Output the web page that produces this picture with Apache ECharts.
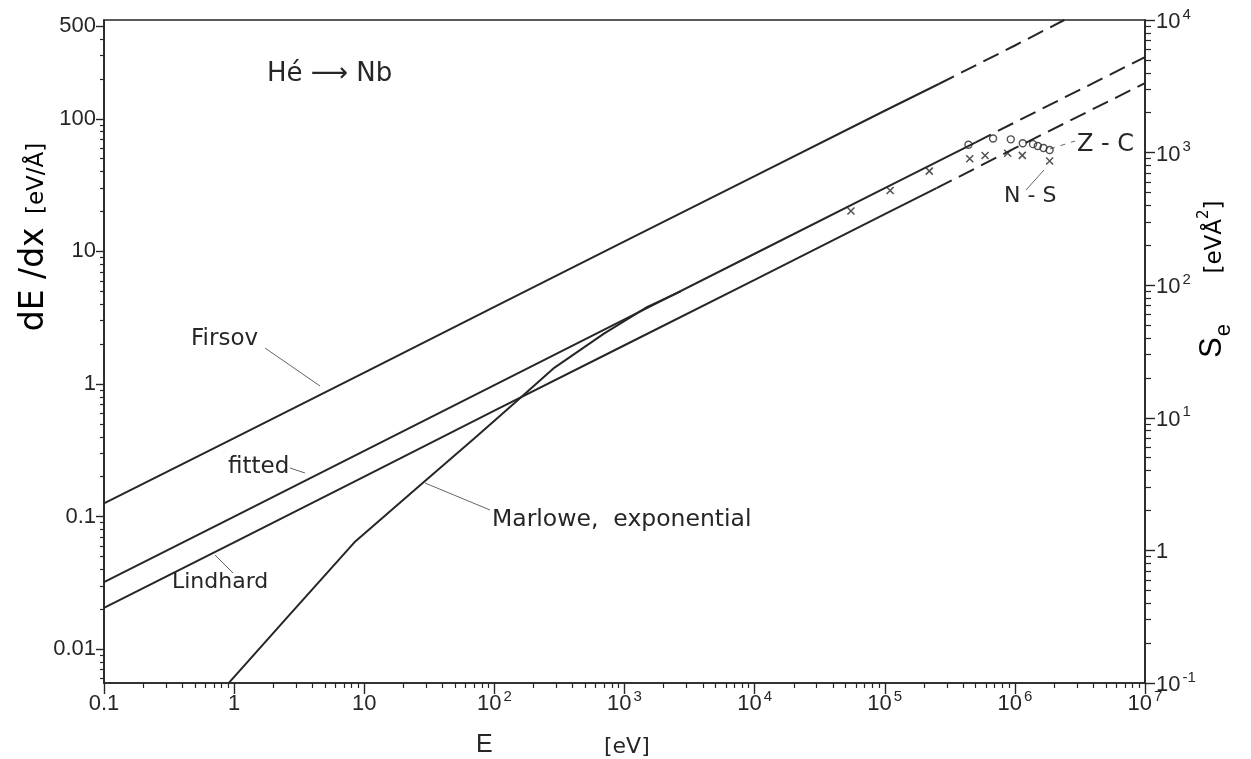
<!DOCTYPE html>
<html><head><meta charset="utf-8">
<script src="https://cdn.jsdelivr.net/npm/echarts@6/dist/echarts.min.js"></script>
<style>html,body{margin:0;padding:0;background:#fff}#c{width:1251px;height:759px}</style>
</head><body><div id="c"></div>
<script>
// ---------- axis ticks ----------
const energyTicks = [0.1, 1, 10, 100, 1e3, 1e4, 1e5, 1e6, 1e7];
const leftTicks = [0.01, 0.1, 1, 10, 100, 500];
const leftTickLabels = ['0.01', '0.1', '1', '10', '100', '500'];
const rightTicks = [0.1, 1, 10, 100, 1e3, 1e4];

// ---------- data (E in eV, dE/dx in eV/Å) ----------
const firsovE      = [0.1, 1, 10, 100, 1e3, 1e4, 1e5, 2.6e5];
const firsovS      = [0.126, 0.39, 1.22, 3.81, 11.9, 36.9, 115, 183];
const firsovDashE  = [2.6e5, 1e6, 2.4e6];
const firsovDashS  = [183, 357, 556];

const fittedE      = [0.1, 1, 10, 100, 1e3, 1e4, 1e5, 5e5];
const fittedS      = [0.032, 0.100, 0.313, 0.98, 3.07, 9.6, 30, 66.5];
const fittedDashE  = [5e5, 1e6, 1e7];
const fittedDashS  = [66.5, 94, 292];

const lindhardE     = [0.1, 1, 10, 100, 1e3, 1e4, 1e5, 2.5e5];
const lindhardS     = [0.0205, 0.064, 0.20, 0.63, 1.96, 6.1, 19.1, 30];
const lindhardDashE = [2.5e5, 1e6, 1e7];
const lindhardDashS = [30, 60, 186];

const marloweE = [0.9, 2.6, 8.4, 27, 70, 143, 290, 700, 1500, 2700];
const marloweS = [0.0055, 0.0177, 0.064, 0.173, 0.388, 0.718, 1.33, 2.41, 3.82, 5.0];

const nsE = [5.5e4, 1.1e5, 2.2e5, 4.5e5, 5.9e5, 8.8e5, 1.14e6, 1.85e6];
const nsS = [20.2, 28.8, 40.3, 50, 52.9, 55, 53, 48];

const zcE = [4.4e5, 6.8e5, 9.3e5, 1.15e6, 1.38e6, 1.5e6, 1.66e6, 1.85e6];
const zcS = [63.8, 71, 70, 65.4, 64.4, 62.3, 60.2, 58.2];

// ---------- helpers ----------
const zip = (a, b) => a.map((v, i) => [v, b[i]]);
function minors(lo, hi, skip) {
  const out = [];
  for (let e = -3; e <= 7; e++) for (let m = 2; m <= 9; m++) {
    const v = +(m * Math.pow(10, e)).toPrecision(6);
    if (v > lo * 1.0001 && v < hi * 0.9999 && !(skip || []).includes(v)) out.push(v);
  }
  return out;
}
const INK = '#262626';
const FONT = 'Liberation Sans';
const AFONT = 'DejaVu Sans';
const LMIN = 0.00556, LMAX = 556;

const supRich = {
  b: { fontSize: 22, fontFamily: FONT, color: INK, verticalAlign: 'bottom', lineHeight: 26 },
  s: { fontSize: 15, fontFamily: FONT, color: INK, verticalAlign: 'top', lineHeight: 26, padding: [0, 0, 10, 2] }
};
function xLabel(v) {
  const e = Math.round(Math.log10(v));
  if (e === -1) return '{b|0.1}';
  if (e === 0) return '{b|1}';
  if (e === 1) return '{b|10}';
  return '{b|10}{s|' + e + '}';
}
function rightLabel(v) {
  const e = Math.round(Math.log10(v));
  if (e === 0) return '{b|1}';
  return '{b|10}{s|' + e + '}';
}
function leftLabel(v) {
  let best = 0;
  leftTicks.forEach((t, i) => { if (Math.abs(Math.log10(v / t)) < Math.abs(Math.log10(v / leftTicks[best]))) best = i; });
  return leftTickLabels[best];
}

const chart = echarts.init(document.getElementById('c'), null, { renderer: 'canvas' });

const lineBase = { type: 'line', showSymbol: false, symbol: 'none', silent: true, xAxisIndex: 0, yAxisIndex: 0, clip: true };
const solid = { color: INK, width: 2 };
const dashed = { color: INK, width: 2, type: [17, 8] };
const annot = (x, y, text, size) => ({ type: 'text', x, y, style: { text, font: size + 'px "' + AFONT + '"', fill: INK, textAlign: 'left', textVerticalAlign: 'middle' } });
const leader = (x1, y1, x2, y2, dash) => ({ type: 'line', shape: { x1, y1, x2, y2 }, style: { stroke: '#666', lineWidth: 1, lineDash: dash || null } });

chart.setOption({
  animation: false,
  backgroundColor: '#fff',
  textStyle: { fontFamily: FONT, color: INK },
  grid: { left: 104, right: 106, top: 20, bottom: 76, show: true, borderColor: INK, borderWidth: 1.6, containLabel: false },
  xAxis: [
    { type: 'log', min: 0.1, max: 1e7, position: 'bottom',
      axisLine: { show: true, lineStyle: { color: INK, width: 1.6 } },
      axisTick: { show: true, inside: false, length: 11, customValues: energyTicks, lineStyle: { color: INK, width: 1.4 } },
      axisLabel: { show: true, margin: 6, customValues: energyTicks, color: INK, fontFamily: FONT, fontSize: 22,
        formatter: xLabel, rich: supRich },
      splitLine: { show: false } },
    { type: 'log', min: 0.1, max: 1e7, position: 'bottom',
      axisLine: { show: false },
      axisTick: { show: true, inside: false, length: 5, customValues: minors(0.1, 1e7), lineStyle: { color: INK, width: 1.2 } },
      axisLabel: { show: false }, splitLine: { show: false } }
  ],
  yAxis: [
    { type: 'log', min: LMIN, max: LMAX, position: 'left',
      axisLine: { show: true, lineStyle: { color: INK, width: 1.6 } },
      axisTick: { show: true, inside: false, length: 8, customValues: leftTicks, lineStyle: { color: INK, width: 1.4 } },
      axisLabel: { show: true, margin: 8, customValues: leftTicks, color: INK, fontFamily: FONT, fontSize: 22,
        formatter: leftLabel },
      splitLine: { show: false } },
    { type: 'log', min: LMIN, max: LMAX, position: 'left',
      axisLine: { show: false },
      axisTick: { show: true, inside: false, length: 4, customValues: minors(LMIN, LMAX, [500]), lineStyle: { color: INK, width: 1.2 } },
      axisLabel: { show: false }, splitLine: { show: false } },
    { type: 'log', min: 0.1, max: 1e4, position: 'right',
      axisLine: { show: true, lineStyle: { color: INK, width: 1.6 } },
      axisTick: { show: true, inside: false, length: 10, customValues: rightTicks, lineStyle: { color: INK, width: 1.4 } },
      axisLabel: { show: true, margin: 11, customValues: rightTicks, color: INK, fontFamily: FONT, fontSize: 22,
        formatter: rightLabel, rich: supRich },
      splitLine: { show: false } },
    { type: 'log', min: 0.1, max: 1e4, position: 'right',
      axisLine: { show: false },
      axisTick: { show: true, inside: false, length: 6, customValues: minors(0.1, 1e4), lineStyle: { color: INK, width: 1.2 } },
      axisLabel: { show: false }, splitLine: { show: false } }
  ],
  series: [
    Object.assign({}, lineBase, { name: 'Firsov', data: zip(firsovE, firsovS), lineStyle: solid }),
    Object.assign({}, lineBase, { name: 'Firsov ext', data: zip(firsovDashE, firsovDashS), lineStyle: dashed }),
    Object.assign({}, lineBase, { name: 'fitted', data: zip(fittedE, fittedS), lineStyle: solid }),
    Object.assign({}, lineBase, { name: 'fitted ext', data: zip(fittedDashE, fittedDashS), lineStyle: dashed }),
    Object.assign({}, lineBase, { name: 'Lindhard', data: zip(lindhardE, lindhardS), lineStyle: solid }),
    Object.assign({}, lineBase, { name: 'Lindhard ext', data: zip(lindhardDashE, lindhardDashS), lineStyle: dashed }),
    Object.assign({}, lineBase, { name: 'Marlowe', data: zip(marloweE, marloweS), lineStyle: solid }),
    { type: 'scatter', name: 'N-S', xAxisIndex: 0, yAxisIndex: 0, silent: true, data: zip(nsE, nsS),
      symbol: 'path://M0 0 L10 10 M10 0 L0 10', symbolSize: 7,
      itemStyle: { color: 'rgba(0,0,0,0)', borderColor: INK, borderWidth: 1.5 } },
    { type: 'scatter', name: 'Z-C', xAxisIndex: 0, yAxisIndex: 0, silent: true, data: zip(zcE, zcS),
      symbol: 'circle', symbolSize: 7,
      itemStyle: { color: 'rgba(0,0,0,0)', borderColor: INK, borderWidth: 1.4 } }
  ],
  graphic: [
    annot(267, 74, 'Hé ⟶ Nb', 26),
    annot(191, 339, 'Firsov', 23),
    annot(228, 467, 'fitted', 23),
    annot(172, 582, 'Lindhard', 22),
    annot(492, 520, 'Marlowe,  exponential', 23.5),
    annot(1077, 145, 'Z - C', 24),
    annot(1004, 196, 'N - S', 22),
    { type: 'text', x: 476, y: 745, style: { text: 'E', font: '25px "Liberation Sans"', fill: INK, textVerticalAlign: 'middle' } },
    { type: 'text', x: 604, y: 747, style: { text: '[eV]', font: '22px "DejaVu Sans"', fill: INK, textVerticalAlign: 'middle' } },
    { type: 'text', x: 31, y: 237, rotation: Math.PI / 2,
      style: { text: '{a|dE /dx} {b|[eV/Å]}', textAlign: 'center', textVerticalAlign: 'middle',
        rich: { a: { fontSize: 33, fontFamily: AFONT, color: INK, verticalAlign: 'bottom', lineHeight: 40 },
                b: { fontSize: 23, fontFamily: AFONT, color: INK, padding: [0, 0, 2, 10], verticalAlign: 'bottom', lineHeight: 40 } } } },
    { type: 'text', x: 1216, y: 341, rotation: Math.PI / 2,
      style: { text: '{a|S}{s|e}', textAlign: 'center', textVerticalAlign: 'middle',
        rich: { a: { fontSize: 31, fontFamily: FONT, color: INK, verticalAlign: 'top', lineHeight: 38 },
                s: { fontSize: 22, fontFamily: FONT, color: INK, verticalAlign: 'bottom', lineHeight: 38, padding: [0, 0, 0, 1] } } } },
    { type: 'text', x: 1212, y: 237, rotation: Math.PI / 2,
      style: { text: '{b|[eVÅ}{u|2}{b|]}', textAlign: 'center', textVerticalAlign: 'middle',
        rich: { b: { fontSize: 23, fontFamily: AFONT, color: INK, lineHeight: 30, verticalAlign: 'bottom' },
                u: { fontSize: 15, fontFamily: AFONT, color: INK, lineHeight: 30, verticalAlign: 'top' } } } },
    leader(265, 348, 320, 386),
    leader(290, 468, 305, 473),
    leader(215, 555, 233, 573),
    leader(425, 483, 490, 510),
    leader(1050, 149, 1075, 141, [5, 6]),
    leader(1044, 170, 1026, 190)
  ]
});
</script></body></html>
